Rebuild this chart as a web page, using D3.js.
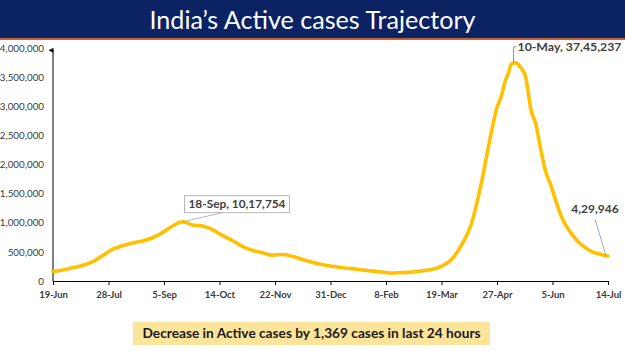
<!DOCTYPE html>
<html><head><meta charset="utf-8">
<script src="https://cdn.jsdelivr.net/npm/d3@7"></script>
<style>html,body{margin:0;padding:0;background:#fff;}svg{display:block;}</style>
</head><body><svg id="c" width="625" height="351"></svg>
<script>
const title = "India\u2019s Active cases Trajectory";
const footer = "Decrease in Active cases by 1,369 cases in last 24 hours";
const dates = ["2020-06-19","2020-06-26","2020-07-03","2020-07-10","2020-07-17","2020-07-24","2020-07-31","2020-08-07","2020-08-14","2020-08-21","2020-08-28","2020-09-04","2020-09-11","2020-09-18","2020-09-25","2020-10-02","2020-10-09","2020-10-16","2020-10-23","2020-10-30","2020-11-06","2020-11-13","2020-11-20","2020-11-27","2020-12-04","2020-12-11","2020-12-18","2020-12-25","2021-01-01","2021-01-08","2021-01-15","2021-01-22","2021-01-29","2021-02-05","2021-02-12","2021-02-19","2021-02-26","2021-03-05","2021-03-12","2021-03-19","2021-03-26","2021-04-02","2021-04-09","2021-04-16","2021-04-23","2021-04-27","2021-04-30","2021-05-03","2021-05-05","2021-05-07","2021-05-08","2021-05-10","2021-05-12","2021-05-14","2021-05-17","2021-05-21","2021-05-24","2021-05-28","2021-05-31","2021-06-04","2021-06-07","2021-06-11","2021-06-14","2021-06-18","2021-06-21","2021-06-25","2021-06-28","2021-07-02","2021-07-05","2021-07-09","2021-07-12","2021-07-14"];
const activeCases = [163248,189463,226947,269789,331146,440135,545318,607384,653622,686395,742023,831124,943480,1017754,960969,942217,883185,783311,695509,594386,527962,484547,443794,454940,422943,372293,322366,283849,254254,227546,213027,188688,171686,155025,136571,143127,151708,173413,197237,252364,368457,614696,979608,1679740,2552940,2978709,3170228,3447133,3566398,3723446,3736648,3745237,3715221,3653742,3516997,2923400,2720716,2228724,1895520,1635993,1401609,1121671,973158,826740,729243,627057,572994,512966,482071,458727,432778,429946];
const tickDates = ["2020-06-19","2020-07-28","2020-09-05","2020-10-14","2020-11-22","2020-12-31","2021-02-08","2021-03-19","2021-04-27","2021-06-05","2021-07-14"];
const tickLabels = ["19-Jun","28-Jul","5-Sep","14-Oct","22-Nov","31-Dec","8-Feb","19-Mar","27-Apr","5-Jun","14-Jul"];
const yTicks = [0,500000,1000000,1500000,2000000,2500000,3000000,3500000,4000000];
const annotations = [
  {date:"2020-09-18", text:"18-Sep,  10,17,754"},
  {date:"2021-05-10", text:"10-May,  37,45,237"},
  {date:"2021-07-14", text:"4,29,946"}
];

const parse = d3.utcParse("%Y-%m-%d");
const data = dates.map((d,i)=>({date:parse(d), value:activeCases[i]}));
const svg = d3.select("#c");
const font = "Lato, 'Open Sans', sans-serif";

// Title band
svg.append("rect").attr("x",0).attr("y",0).attr("width",625).attr("height",38).attr("fill","#0b2263");
svg.append("rect").attr("x",0).attr("y",38).attr("width",625).attr("height",2).attr("fill","#c8603e");
svg.append("text").attr("x",312.5).attr("y",29).attr("text-anchor","middle")
  .attr("fill","#fff").attr("font-family",font).attr("font-size",25)
  .attr("textLength",326).attr("lengthAdjust","spacingAndGlyphs").text(title);

const x = d3.scaleUtc().domain([parse(dates[0]), parse(dates[dates.length-1])]).range([53,608]);
const y = d3.scaleLinear().domain([0,4000000]).range([281,48]);

// X axis
const xAxis = d3.axisBottom(x).tickValues(tickDates.map(parse)).tickSize(4).tickSizeOuter(0)
  .tickFormat((d,i)=>tickLabels[i]);
const gx = svg.append("g").attr("transform","translate(0,281)").call(xAxis);
gx.select(".domain").attr("stroke","#000").attr("stroke-width",1);
gx.selectAll(".tick line").attr("stroke","#000");
gx.selectAll(".tick text").attr("fill","#3a3a3a").attr("font-family",font).attr("font-weight","bold")
  .attr("font-size",9.5).attr("dy","0.71em").attr("y",10);

// Y axis
svg.append("defs").append("marker").attr("id","arr").attr("viewBox","0 0 10 10").attr("refX",5).attr("refY",9)
  .attr("markerWidth",5).attr("markerHeight",6).attr("orient","auto-start-reverse")
  .append("path").attr("d","M0,10 L5,0 L10,10 Z").attr("fill","#000");
const yAxis = d3.axisLeft(y).tickValues(yTicks).tickSize(0).tickFormat(d3.format(","));
const gy = svg.append("g").attr("transform","translate(53,0)").call(yAxis);
gy.select(".domain").remove();
gy.append("line").attr("x1",0).attr("x2",0).attr("y1",281).attr("y2",y(3960000)).attr("stroke","#000")
  .attr("stroke-width",1).attr("marker-end","url(#arr)");
gy.selectAll(".tick text").attr("fill","#3a3a3a").attr("font-family",font).attr("font-size",9.8).attr("x",-9);

// Line
const line = d3.line().x(d=>x(d.date)).y(d=>y(d.value)).curve(d3.curveMonotoneX);
svg.append("path").datum(data).attr("d",line).attr("fill","none").attr("stroke","#ffc000")
  .attr("stroke-width",3.6).attr("stroke-linejoin","round").attr("stroke-linecap","round");

// Annotations
const a0 = annotations[0], p0 = {x:x(parse(a0.date)), y:y(activeCases[dates.indexOf(a0.date)])};
svg.append("line").attr("x1",p0.x).attr("y1",p0.y).attr("x2",p0.x+40).attr("y2",p0.y-9)
  .attr("stroke","#a6a6a6").attr("stroke-width",0.8);
svg.append("rect").attr("x",p0.x+2).attr("y",p0.y-26).attr("width",105).attr("height",17)
  .attr("fill","#fff").attr("stroke","#a6a6a6").attr("stroke-width",0.8);
svg.append("text").attr("x",p0.x+54.5).attr("y",p0.y-13.5).attr("text-anchor","middle")
  .attr("fill","#404040").attr("font-family",font).attr("font-weight","bold").attr("font-size",12)
  .attr("textLength",97).attr("lengthAdjust","spacingAndGlyphs").text(a0.text);

const a1 = annotations[1], p1 = {x:x(parse(a1.date)), y:y(activeCases[dates.indexOf(a1.date)])};
svg.append("path").attr("d",`M${p1.x-2},${p1.y} L${p1.x-2},${p1.y-16} L${p1.x+1},${p1.y-16}`)
  .attr("fill","none").attr("stroke","#7f7f7f").attr("stroke-width",0.8);
svg.append("text").attr("x",p1.x+2).attr("y",p1.y-12).attr("fill","#404040").attr("font-family",font)
  .attr("font-weight","bold").attr("font-size",12)
  .attr("textLength",104).attr("lengthAdjust","spacingAndGlyphs").text(a1.text);

const a2 = annotations[2], p2 = {x:x(parse(a2.date)), y:y(activeCases[dates.indexOf(a2.date)])};
svg.append("line").attr("x1",p2.x-2).attr("y1",p2.y).attr("x2",p2.x-13).attr("y2",p2.y-37)
  .attr("stroke","#8497b0").attr("stroke-width",0.8);
svg.append("text").attr("x",p2.x-13).attr("y",p2.y-43).attr("text-anchor","middle").attr("fill","#404040")
  .attr("font-family",font).attr("font-weight","bold").attr("font-size",12).text(a2.text);

// Footer
svg.append("rect").attr("x",133).attr("y",322).attr("width",357).attr("height",23).attr("fill","#fde49b");
svg.append("text").attr("x",311.5).attr("y",338).attr("text-anchor","middle").attr("fill","#1a1a1a")
  .attr("font-family",font).attr("font-weight","bold").attr("font-size",13.5)
  .attr("textLength",338).attr("lengthAdjust","spacingAndGlyphs").text(footer);
</script></body></html>
